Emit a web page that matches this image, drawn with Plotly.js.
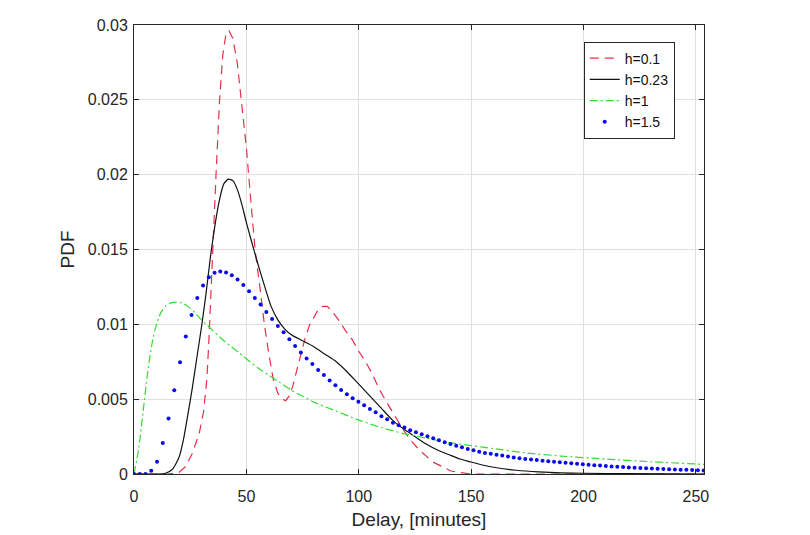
<!DOCTYPE html>
<html>
<head>
<meta charset="utf-8">
<script src="https://cdn.plot.ly/plotly-3.0.1.min.js"></script>
<style>html,body{margin:0;padding:0;background:#fff;}#chart{width:810px;height:535px;}</style>
</head>
<body>
<div id="chart"></div>
<script>
// h = 0.1 (red dashed)
const redX = [0, 10, 15, 20, 23, 26, 29, 31, 32.5, 33.5, 34.5, 35.5, 36.5, 38, 39.5, 41, 42.3, 44, 46, 48, 50, 52, 54, 56, 58, 60, 62, 64, 66, 67.5, 69, 70.5, 72, 74, 76, 78, 80, 82, 84, 86, 88.5, 91, 94, 97, 100, 103, 106, 109, 112, 115, 118, 121, 124, 127, 130, 133, 137, 141, 145, 150, 170, 200, 230, 254];
const redY = [0, 0, 0, 0.0001, 0.0005, 0.0014, 0.0027, 0.0042, 0.0065, 0.0095, 0.0135, 0.0165, 0.0200, 0.0248, 0.0280, 0.0295, 0.0296, 0.0291, 0.0274, 0.0248, 0.0218, 0.0182, 0.0148, 0.0125, 0.0100, 0.0080, 0.0063, 0.0054, 0.0050, 0.0049, 0.0052, 0.0058, 0.0067, 0.0080, 0.0090, 0.0099, 0.0105, 0.0110, 0.0112, 0.0112, 0.0108, 0.0103, 0.0096, 0.0090, 0.0082, 0.0075, 0.0067, 0.0057, 0.0049, 0.0041, 0.0034, 0.0027, 0.0021, 0.0016, 0.0012, 0.0008, 0.0005, 0.0002, 0.0001, 0, 0, 0, 0, 0];

// h = 0.23 (black solid)
const blackX = [0, 10, 14, 17, 20, 22, 24, 26, 28, 30, 32, 34, 36, 38, 40, 42, 44, 46, 48, 50, 52, 55, 58, 61, 64, 67, 70, 75, 80, 85, 90, 95, 100, 105, 110, 115, 120, 125, 130, 135, 140, 145, 150, 155, 160, 170, 180, 190, 200, 220, 254];
const blackY = [0, 0, 0.00005, 0.0003, 0.0011, 0.0023, 0.0040, 0.0058, 0.0078, 0.0098, 0.0120, 0.0145, 0.0166, 0.0183, 0.0194, 0.0197, 0.0196, 0.0190, 0.0180, 0.0168, 0.0157, 0.0141, 0.0126, 0.0112, 0.0103, 0.0097, 0.0093, 0.0089, 0.0085, 0.0080, 0.0075, 0.0068, 0.0060, 0.0052, 0.0044, 0.0036, 0.0030, 0.0025, 0.0020, 0.0016, 0.0013, 0.0010, 0.0008, 0.0006, 0.00045, 0.00025, 0.00014, 0.00008, 0.00005, 0.00002, 0];

// h = 1 (green dash-dot)
const greenX = [0, 2, 4, 6, 8, 10, 12, 14, 16.5, 19, 21.5, 24, 27, 30, 35, 40, 45, 50, 55, 60, 65, 70, 75, 80, 90, 100, 110, 120, 130, 140, 150, 160, 175, 190, 210, 230, 254];
const greenY = [0, 0.0016, 0.0041, 0.0067, 0.0087, 0.0100, 0.0108, 0.0112, 0.01143, 0.01148, 0.01142, 0.0112, 0.0108, 0.0103, 0.0096, 0.0089, 0.0083, 0.0077, 0.0071, 0.0066, 0.0061, 0.0056, 0.0052, 0.0048, 0.0042, 0.0036, 0.0031, 0.0027, 0.0024, 0.0021, 0.0019, 0.0017, 0.0014, 0.0012, 0.0010, 0.00082, 0.00064];

// h = 1.5 (blue dots)
const blueX = [0, 2.56, 5.12, 7.68, 10.24, 12.8, 15.36, 17.92, 20.48, 23.04, 25.6, 28.16, 30.72, 33.28, 35.84, 38.4, 40.96, 43.52, 46.08, 48.64, 51.2, 53.76, 56.32, 58.88, 61.44, 64, 66.56, 69.12, 71.68, 74.24, 76.8, 79.36, 81.92, 84.48, 87.04, 89.6, 92.16, 94.72, 97.28, 99.84, 102.4, 104.96, 107.52, 110.08, 112.64, 115.2, 117.76, 120.32, 122.88, 125.44, 128, 130.56, 133.12, 135.68, 138.24, 140.8, 143.36, 145.92, 148.48, 151.04, 153.6, 156.16, 158.72, 161.28, 163.84, 166.4, 168.96, 171.52, 174.08, 176.64, 179.2, 181.76, 184.32, 186.88, 189.44, 192, 194.56, 197.12, 199.68, 202.24, 204.8, 207.36, 209.92, 212.48, 215.04, 217.6, 220.16, 222.72, 225.28, 227.84, 230.4, 232.96, 235.52, 238.08, 240.64, 243.2, 245.76, 248.32, 250.88, 253.44, 256];
const blueY = [0, 0, 0, 0.00022, 0.00082, 0.00207, 0.0037, 0.0056, 0.00747, 0.00918, 0.01063, 0.01176, 0.01259, 0.01315, 0.01344, 0.01353, 0.01346, 0.01328, 0.01299, 0.01263, 0.01221, 0.01176, 0.01132, 0.01083, 0.01036, 0.00989, 0.00947, 0.009, 0.00856, 0.00812, 0.00772, 0.00735, 0.00695, 0.00662, 0.00624, 0.00593, 0.00561, 0.00533, 0.00506, 0.00483, 0.00459, 0.00434, 0.00412, 0.00386, 0.00366, 0.00343, 0.00326, 0.0031, 0.00292, 0.00279, 0.00265, 0.00252, 0.00239, 0.00225, 0.00212, 0.002, 0.00189, 0.00178, 0.00167, 0.00158, 0.00149, 0.0014, 0.00136, 0.00129, 0.00124, 0.00117, 0.00111, 0.00106, 0.00101, 0.00097, 0.00093, 0.00089, 0.00086, 0.00082, 0.00078, 0.00075, 0.00071, 0.00068, 0.00065, 0.00062, 0.00059, 0.00056, 0.00053, 0.0005, 0.00048, 0.00046, 0.00044, 0.00042, 0.0004, 0.00038, 0.00036, 0.00035, 0.00033, 0.00032, 0.0003, 0.00029, 0.00028, 0.00026, 0.00025, 0.00023, 0.00022];

const seriesNames = ['h=0.1', 'h=0.23', 'h=1', 'h=1.5'];
const xTicks = [0, 50, 100, 150, 200, 250];
const yTicks = [0, 0.005, 0.01, 0.015, 0.02, 0.025, 0.03];

const FONT = 'Liberation Sans, Arial, sans-serif';

const traces = [
  {x: redX, y: redY, name: seriesNames[0], type: 'scatter', mode: 'lines',
   line: {color: '#e6304a', width: 1.2, dash: '9px,6px'}},
  {x: blackX, y: blackY, name: seriesNames[1], type: 'scatter', mode: 'lines',
   line: {color: '#111111', width: 1.2, shape: 'spline', smoothing: 0.6}},
  {x: greenX, y: greenY, name: seriesNames[2], type: 'scatter', mode: 'lines',
   line: {color: '#33dd33', width: 1.2, dash: '8px,3px,2px,3px', shape: 'spline', smoothing: 0.6}},
  {x: blueX, y: blueY, name: seriesNames[3], type: 'scatter', mode: 'markers',
   marker: {color: '#0a0aee', size: 4}}
];

const axisCommon = {
  showline: true, mirror: 'ticks', linecolor: '#262626', linewidth: 1,
  ticks: 'inside', ticklen: 5, tickcolor: '#262626',
  showgrid: true, gridcolor: '#e0e0e0', gridwidth: 1, zeroline: false,
  tickfont: {family: FONT, size: 16, color: '#262626'}
};

const layout = {
  width: 810, height: 535,
  margin: {l: 134, r: 106, t: 25, b: 61},
  paper_bgcolor: '#ffffff', plot_bgcolor: '#ffffff',
  showlegend: true,
  legend: {
    x: 0.789, y: 0.963, xanchor: 'left', yanchor: 'top',
    bgcolor: '#ffffff', bordercolor: '#262626', borderwidth: 1,
    font: {family: FONT, size: 14, color: '#111111'},
    tracegroupgap: 0
  },
  xaxis: Object.assign({}, axisCommon, {
    range: [0, 253.6], tickvals: xTicks, ticktext: xTicks.map(String),
    ticklabelstandoff: 8,
    title: {text: 'Delay, [minutes]', font: {family: FONT, size: 19, color: '#262626'}, standoff: 8}
  }),
  yaxis: Object.assign({}, axisCommon, {
    range: [0, 0.03], tickvals: yTicks, ticktext: yTicks.map(String),
    ticklabelstandoff: 2,
    title: {text: 'PDF', font: {family: FONT, size: 19, color: '#262626'}, standoff: 8}
  })
};

Plotly.newPlot('chart', traces, layout, {displayModeBar: false, staticPlot: true});
</script>
</body>
</html>
